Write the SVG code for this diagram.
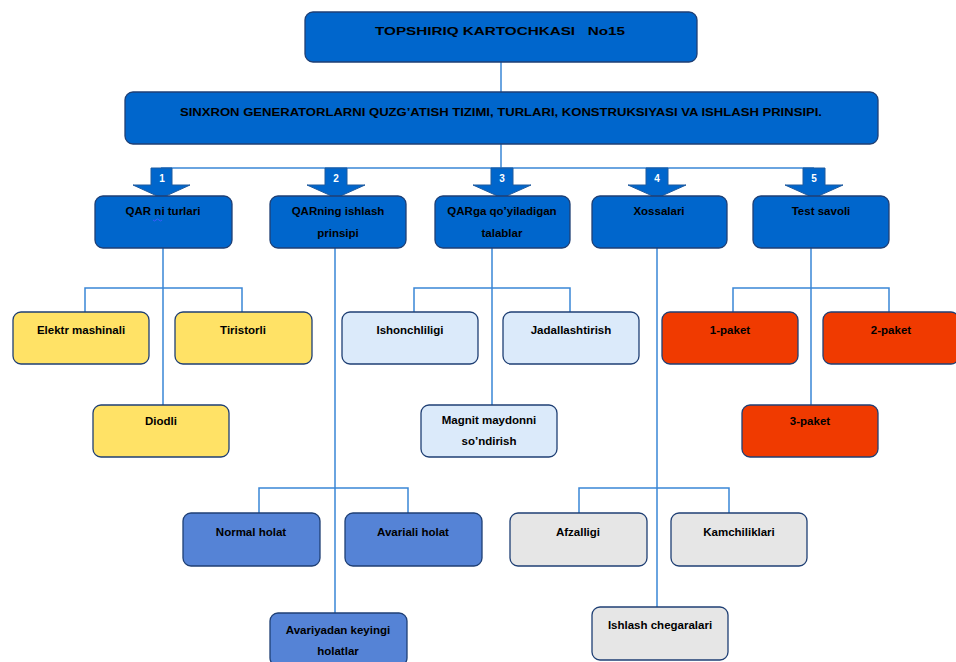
<svg xmlns="http://www.w3.org/2000/svg" width="956" height="662" viewBox="0 0 956 662">
<style>
.t{font-family:"Liberation Sans",Arial,sans-serif;font-weight:bold;font-size:11.5px;fill:#000;text-anchor:middle;dominant-baseline:middle}
.n{font-family:"Liberation Sans",Arial,sans-serif;font-weight:bold;font-size:10px;fill:#fff;text-anchor:middle;dominant-baseline:middle}
.b{stroke:#1f3f74;stroke-width:1.3}
.main{fill:#0066cc}
.yel{fill:#ffe266}
.lb{fill:#dbeafa}
.red{fill:#f03a00}
.mb{fill:#5583d6}
.gr{fill:#e6e6e6}
.c{fill:none;stroke:#3a86d6;stroke-width:1.5}
.ar{fill:#0066cc;stroke:#1f5a9e;stroke-width:1}
</style>
<g id="connectors">
<path class="c" d="M501 62V92M501 144V168M161 168H814"/>
<path class="c" d="M163 248V405M85 312V288H242V312"/>
<path class="c" d="M335 248V613M259 513V488H408V513"/>
<path class="c" d="M492 248V405M414 312V288H570V312"/>
<path class="c" d="M657 248V607M579 513V488H729V513"/>
<path class="c" d="M811 248V405M733 312V288H889V312"/>
</g>
<g id="arrows">
<path class="ar" d="M151 168H172V185H190L161.5 198L133 185H151Z"/>
<path class="ar" d="M325 168H347V185H365L336 198L307 185H325Z"/>
<path class="ar" d="M491 168H513V185H531L502 198L473 185H491Z"/>
<path class="ar" d="M646 168H668V185H686L657 198L628 185H646Z"/>
<path class="ar" d="M803 168H825V185H843L814 198L785 185H803Z"/>
<text class="n" x="162" y="179">1</text>
<text class="n" x="336" y="179">2</text>
<text class="n" x="502" y="179">3</text>
<text class="n" x="657" y="179">4</text>
<text class="n" x="814" y="179">5</text>
</g>
<g id="title"><rect class="main b" x="305" y="12" width="392" height="50" rx="8"/><text class="t" x="500" y="32" font-size="14" textLength="250" lengthAdjust="spacingAndGlyphs" xml:space="preserve">TOPSHIRIQ KARTOCHKASI   No15</text></g>
<g id="theme"><rect class="main b" x="125" y="92" width="753" height="52" rx="8"/><text class="t" x="501" y="113" font-size="12" textLength="642" lengthAdjust="spacingAndGlyphs">SINXRON GENERATORLARNI QUZG’ATISH TIZIMI, TURLARI, KONSTRUKSIYASI VA ISHLASH PRINSIPI.</text></g>
<g id="n1"><rect class="main b" x="95" y="196" width="137" height="52" rx="8"/><text class="t" x="163" y="212">QAR ni turlari</text><path d="M153 220q1.5 2 3 0t3 0t3 0" fill="none" stroke="#3b5bff" stroke-width="1"/></g>
<g id="n2"><rect class="main b" x="270" y="196" width="136" height="52" rx="8"/><text class="t" x="338" y="212">QARning ishlash</text><text class="t" x="338" y="234">prinsipi</text></g>
<g id="n3"><rect class="main b" x="435" y="196" width="135" height="52" rx="8"/><text class="t" x="502" y="212">QARga qo’yiladigan</text><text class="t" x="502" y="234">talablar</text></g>
<g id="n4"><rect class="main b" x="592" y="196" width="135" height="52" rx="8"/><text class="t" x="659" y="212">Xossalari</text></g>
<g id="n5"><rect class="main b" x="753" y="196" width="136" height="52" rx="8"/><text class="t" x="821" y="212">Test savoli</text></g>
<g id="n1a"><rect class="yel b" x="13" y="312" width="136" height="52" rx="8"/><text class="t" x="81" y="331">Elektr mashinali</text></g>
<g id="n1b"><rect class="yel b" x="175" y="312" width="137" height="52" rx="8"/><text class="t" x="243" y="331">Tiristorli</text></g>
<g id="n1c"><rect class="yel b" x="93" y="405" width="136" height="52" rx="8"/><text class="t" x="161" y="422">Diodli</text></g>
<g id="n3a"><rect class="lb b" x="342" y="312" width="136" height="52" rx="8"/><text class="t" x="410" y="331">Ishonchliligi</text></g>
<g id="n3b"><rect class="lb b" x="503" y="312" width="136" height="52" rx="8"/><text class="t" x="571" y="331">Jadallashtirish</text></g>
<g id="n3c"><rect class="lb b" x="421" y="405" width="136" height="52" rx="8"/><text class="t" x="489" y="421">Magnit maydonni</text><text class="t" x="489" y="442">so’ndirish</text></g>
<g id="n5a"><rect class="red b" x="662" y="312" width="136" height="52" rx="8"/><text class="t" x="730" y="331">1-paket</text></g>
<g id="n5b"><rect class="red b" x="823" y="312" width="136" height="52" rx="8"/><text class="t" x="891" y="331">2-paket</text></g>
<g id="n5c"><rect class="red b" x="742" y="405" width="136" height="52" rx="8"/><text class="t" x="810" y="422">3-paket</text></g>
<g id="n2a"><rect class="mb b" x="183" y="513" width="137" height="53" rx="8"/><text class="t" x="251" y="533">Normal holat</text></g>
<g id="n2b"><rect class="mb b" x="345" y="513" width="137" height="53" rx="8"/><text class="t" x="413" y="533">Avariali holat</text></g>
<g id="n2c"><rect class="mb b" x="270" y="613" width="137" height="53" rx="8"/><text class="t" x="338" y="631">Avariyadan keyingi</text><text class="t" x="338" y="652">holatlar</text></g>
<g id="n4a"><rect class="gr b" x="510" y="513" width="137" height="53" rx="8"/><text class="t" x="578" y="533">Afzalligi</text></g>
<g id="n4b"><rect class="gr b" x="671" y="513" width="136" height="53" rx="8"/><text class="t" x="739" y="533">Kamchiliklari</text></g>
<g id="n4c"><rect class="gr b" x="592" y="607" width="136" height="53" rx="8"/><text class="t" x="660" y="626">Ishlash chegaralari</text></g>
</svg>
